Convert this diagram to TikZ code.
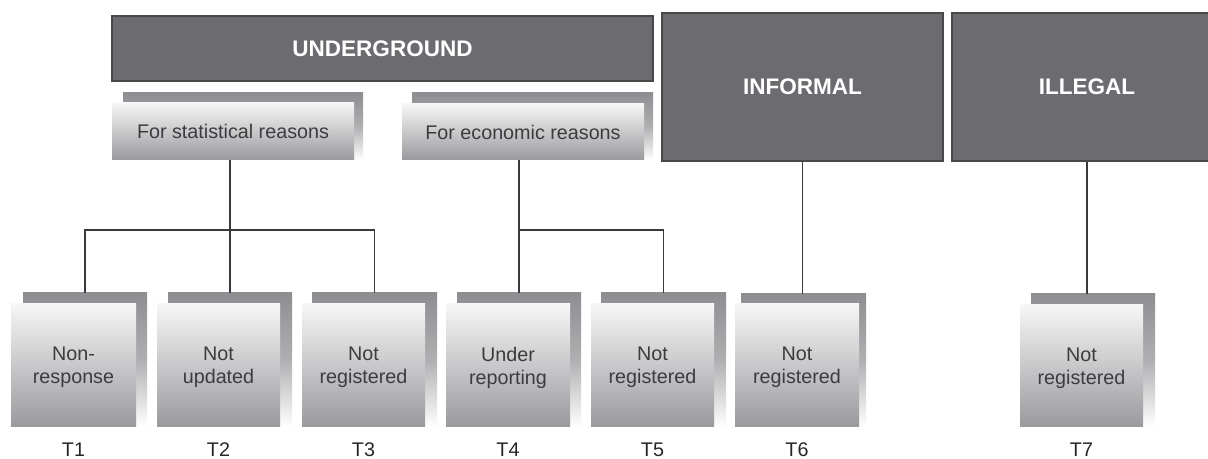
\documentclass[tikz,border=0pt]{standalone}
\usepackage{fontspec}
\setmainfont{Liberation Sans}
\usetikzlibrary{fit}
\definecolor{boxfill}{RGB}{108,108,112}
\definecolor{boxedge}{RGB}{72,72,74}
\definecolor{shgray}{RGB}{142,142,146}
\definecolor{frtop}{RGB}{246,246,246}
\definecolor{frbot}{RGB}{154,154,158}
\definecolor{txtgray}{RGB}{60,60,62}
\definecolor{linegray}{RGB}{58,58,60}
\tikzset{
  darkbox/.style={draw=boxedge, line width=0.9pt, fill=boxfill, inner sep=0pt},
  darktext/.style={text=white, inner sep=0pt, font=\fontsize{16.9}{20}\selectfont\bfseries},
  shadowbox/.style={inner sep=0pt, top color=shgray, bottom color=white, middle color=shgray!70!white},
  frontbox/.style={inner sep=0pt, top color=frtop, bottom color=frbot},
  fronttext/.style={inner sep=0pt, text=txtgray, align=center, font=\fontsize{14.8}{17.3}\selectfont},
  tlabel/.style={inner sep=0pt, text=black!85, font=\fontsize{14.8}{17.3}\selectfont},
  conn/.style={draw=linegray, line width=0.95pt}
}
\begin{document}
\begin{tikzpicture}[x=0.75pt, y=-0.75pt]
\useasboundingbox (0,0) rectangle (1208,459);
\clip (0,0) rectangle (1208,459);
% top dark boxes
\node[darkbox, fit={(112,16) (653,81)}] (ug) {};
\node[darktext] (ugt) at (ug.center) {UNDERGROUND};
\node[darkbox, fit={(662,13) (943,161)}] (inf) {};
\node[darktext] (inft) at (inf.center) {INFORMAL};
\node[darkbox, fit={(952,13) (1222,161)}] (ill) {};
\node[darktext] (illt) at (ill.center) {ILLEGAL};
% second level
\node[shadowbox, fit={(123,93) (363,160)}] (stats) {};
\node[frontbox, fit={(112,103) (354,160)}] (stat) {};
\node[fronttext] (statt) at (stat.center) {For statistical reasons};
\node[shadowbox, fit={(412,93) (653,160)}] (econs) {};
\node[frontbox, fit={(402,104) (644,160)}] (econ) {};
\node[fronttext] (econt) at (econ.center) {For economic reasons};
% T boxes
\node[shadowbox, fit={(23,293) (147,427)}] (t1s) {};
\node[frontbox, fit={(11,304) (136,427)}] (t1) {};
\node[fronttext] (t1t) at ([yshift=-1.5pt]t1.center) {Non-\\response};
\node[shadowbox, fit={(168,293) (292,427)}] (t2s) {};
\node[frontbox, fit={(157,304) (280,427)}] (t2) {};
\node[fronttext] (t2t) at ([yshift=-1.5pt]t2.center) {Not\\updated};
\node[shadowbox, fit={(312,293) (437,427)}] (t3s) {};
\node[frontbox, fit={(302,304) (425,427)}] (t3) {};
\node[fronttext] (t3t) at ([yshift=-1.5pt]t3.center) {Not\\registered};
\node[shadowbox, fit={(457,293) (581,427)}] (t4s) {};
\node[frontbox, fit={(446,304) (570,427)}] (t4) {};
\node[fronttext] (t4t) at ([yshift=-1.5pt]t4.center) {Under\\reporting};
\node[shadowbox, fit={(601,293) (726,427)}] (t5s) {};
\node[frontbox, fit={(591,304) (714,427)}] (t5) {};
\node[fronttext] (t5t) at ([yshift=-1.5pt]t5.center) {Not\\registered};
\node[shadowbox, fit={(741,294) (866,427)}] (t6s) {};
\node[frontbox, fit={(735,304) (859,427)}] (t6) {};
\node[fronttext] (t6t) at ([yshift=-1.5pt]t6.center) {Not\\registered};
\node[shadowbox, fit={(1031,294) (1155,427)}] (t7s) {};
\node[frontbox, fit={(1020,305) (1143,427)}] (t7) {};
\node[fronttext] (t7t) at ([yshift=-1.5pt]t7.center) {Not\\registered};
% labels
\node[tlabel] (l1) at (73.5,450) {T1};
\node[tlabel] (l2) at (218.5,450) {T2};
\node[tlabel] (l3) at (363.5,450) {T3};
\node[tlabel] (l4) at (508,450) {T4};
\node[tlabel] (l5) at (652.5,450) {T5};
\node[tlabel] (l6) at (797,450) {T6};
\node[tlabel] (l7) at (1081.5,450) {T7};
% connectors
\coordinate (sb) at (230,230);
\coordinate (eb) at (519,230);
\draw[conn] (stat.south -| t2s.north) -- (t2s.north);
\draw[conn] (t1s.north) |- (sb) -| (t3s.north);
\draw[conn] (econ.south -| t4s.north) -- (t4s.north);
\draw[conn] (eb) -| (t5s.north);
\draw[conn] (inf.south) -- (inf.south |- t6s.north);
\draw[conn] (ill.south) -- (ill.south |- t7s.north);
\end{tikzpicture}
\end{document}
